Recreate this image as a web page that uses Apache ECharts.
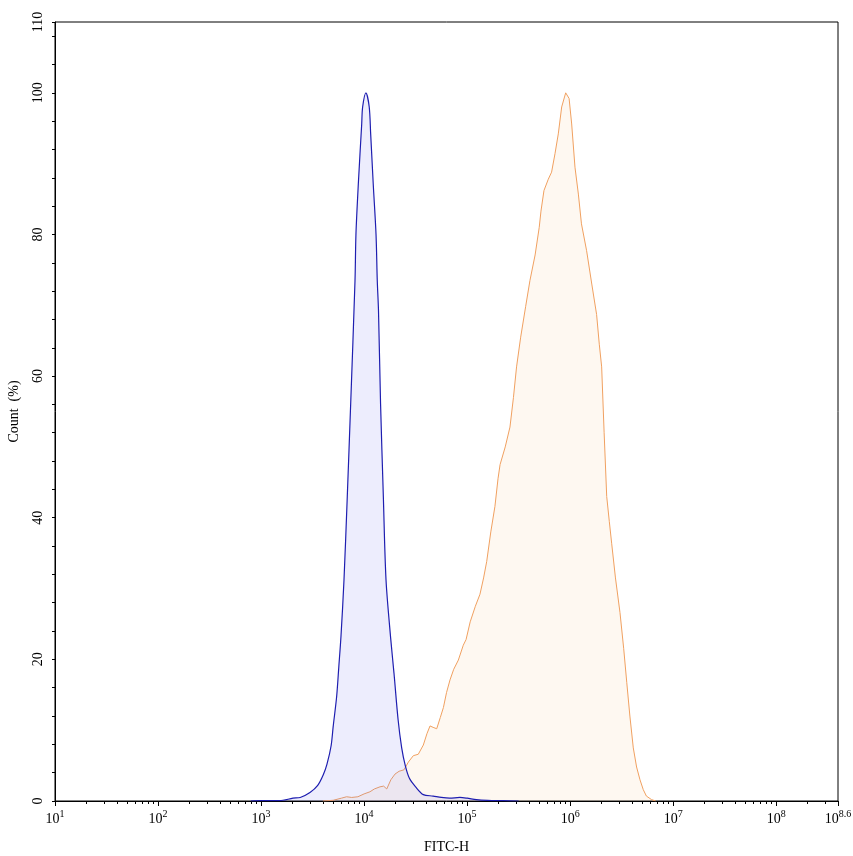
<!DOCTYPE html>
<html>
<head>
<meta charset="utf-8">
<script src="https://cdn.jsdelivr.net/npm/echarts@6/dist/echarts.min.js"></script>
<style>
html,body{margin:0;padding:0;background:#fff;}
#c{width:853px;height:856px;}
</style>
</head>
<body>
<div id="c"></div>
<script>
// x values are log10(FITC-H)
var blueX = [2.9,3.0,3.18,3.31,3.38,3.475,3.55,3.604,3.64,3.68,3.70,3.734,3.755,3.776,3.805,3.837,3.87,3.912,3.921,3.944,3.977,3.986,4.018,4.05,4.064,4.089,4.116,4.128,4.14,4.16,4.187,4.213,4.258,4.29,4.33,4.365,4.40,4.44,4.50,4.575,4.67,4.75,4.83,4.93,5.0,5.09,5.2,5.35,5.5];
var blueY = [0,0.05,0.05,0.4,0.5,1.2,2.2,3.7,5.2,7.8,10.5,14.8,19,23.3,31.2,43,56.1,73.5,80,87.1,95.6,98,100,98,94.2,87.1,80,73.5,69.2,56.1,43,31.2,23,18.1,11.5,7.5,5,3.2,2.0,0.9,0.7,0.5,0.4,0.5,0.4,0.2,0.1,0.05,0];
var orangeX = [3.60,3.70,3.78,3.83,3.88,3.94,4.0,4.057,4.10,4.154,4.19,4.22,4.26,4.30,4.34,4.387,4.43,4.478,4.526,4.575,4.61,4.64,4.67,4.705,4.74,4.77,4.80,4.834,4.87,4.915,4.963,4.99,5.03,5.08,5.125,5.16,5.19,5.23,5.27,5.30,5.32,5.37,5.416,5.45,5.48,5.52,5.568,5.61,5.66,5.70,5.717,5.746,5.788,5.82,5.853,5.885,5.918,5.957,5.99,6.015,6.047,6.08,6.11,6.16,6.21,6.257,6.283,6.306,6.33,6.355,6.38,6.403,6.44,6.484,6.52,6.55,6.58,6.613,6.645,6.678,6.71,6.74,6.79,6.83];
var orangeY = [0,0.1,0.4,0.6,0.5,0.6,1.0,1.3,1.7,2.0,2.1,1.7,3.0,3.8,4.2,4.4,5.5,6.4,6.6,7.9,9.5,10.6,10.4,10.2,11.8,13.2,15.3,17.1,18.6,19.9,22,22.8,25.3,27.5,29.2,31.5,33.8,38,41.6,45.5,47.5,50,52.8,57,61.3,65.5,69.8,73.5,77.1,81,83.3,86.2,87.8,88.8,91.4,94.2,98,100,99.2,95.6,89.5,85.7,81.5,77.7,73,68.7,64.5,61.3,52,43,39.5,36.4,31.5,26.6,21.5,16.7,12,7.5,4.8,3.0,1.6,0.7,0.2,0];
var xTickExp = [1,2,3,4,5,6,7,8,8.6];
var yTickLabels = [0,20,40,60,80,100,110];

function pairs(xs, ys){ return xs.map(function(x,i){return [x, ys[i]];}); }
var minorX = [];
for (var n = 1; n <= 8; n++) {
  for (var k = 2; k <= 9; k++) {
    var v = n + Math.log10(k);
    if (v < 8.6) minorX.push(v);
  }
}
var yTicks = [];
for (var t = 0; t <= 108; t += 4) yTicks.push(t);
yTicks.push(110);

var serif = '"Liberation Serif","DejaVu Serif",serif';
var chart = echarts.init(document.getElementById('c'), null, {renderer:'canvas'});
chart.setOption({
  animation:false,
  backgroundColor:'#fff',
  grid:{left:55,right:15,top:22,bottom:55,outerBoundsMode:'none',containLabel:false,show:true,borderColor:'#000',borderWidth:1,backgroundColor:'transparent'},
  xAxis:[{
    type:'value',min:1,max:8.6,
    name:'FITC-H',nameLocation:'middle',nameGap:39,
    nameTextStyle:{fontFamily:serif,fontSize:14,color:'#000'},
    axisLine:{show:true,onZero:false,lineStyle:{color:'#000',width:1}},
    axisTick:{show:true,length:5,customValues:xTickExp,lineStyle:{color:'#000'}},
    axisLabel:{
      customValues:xTickExp,margin:8,
      formatter:function(v){ var e = Math.abs(v-8.6)<1e-6 ? '8.6' : String(Math.round(v)); return '{b|10}{s|'+e+'}'; },
      rich:{
        b:{fontFamily:serif,fontSize:14,color:'#000',verticalAlign:'bottom'},
        s:{fontFamily:serif,fontSize:10,color:'#000',verticalAlign:'top',padding:[0,0,7,0]}
      }
    },
    splitLine:{show:false}
  },{
    type:'value',min:1,max:8.6,position:'bottom',
    axisLine:{show:false},
    axisTick:{show:true,length:3,customValues:minorX,lineStyle:{color:'#000'}},
    axisLabel:{show:false},
    splitLine:{show:false}
  }],
  yAxis:{
    type:'value',min:0,max:110,
    name:'Count  (%)',nameLocation:'middle',nameGap:34,nameRotate:90,
    nameTextStyle:{fontFamily:serif,fontSize:14,color:'#000'},
    axisLine:{show:true,lineStyle:{color:'#000',width:1}},
    axisTick:{show:true,length:3,customValues:yTicks,lineStyle:{color:'#000'}},
    axisLabel:{customValues:yTickLabels,rotate:90,margin:10,fontFamily:serif,fontSize:14,color:'#000'},
    splitLine:{show:false}
  },
  series:[{
    type:'line',xAxisIndex:0,symbol:'none',
    data:pairs(orangeX,orangeY),
    lineStyle:{color:'#f0a060',width:1},
    areaStyle:{color:'rgba(248,190,130,0.16)'},
    z:2
  },{
    type:'line',xAxisIndex:0,symbol:'none',smooth:0.3,
    data:pairs(blueX,blueY),
    lineStyle:{color:'#1e1eb0',width:1.2},
    areaStyle:{color:'rgba(100,100,240,0.16)'},
    z:3
  }]
});
</script>
</body>
</html>
